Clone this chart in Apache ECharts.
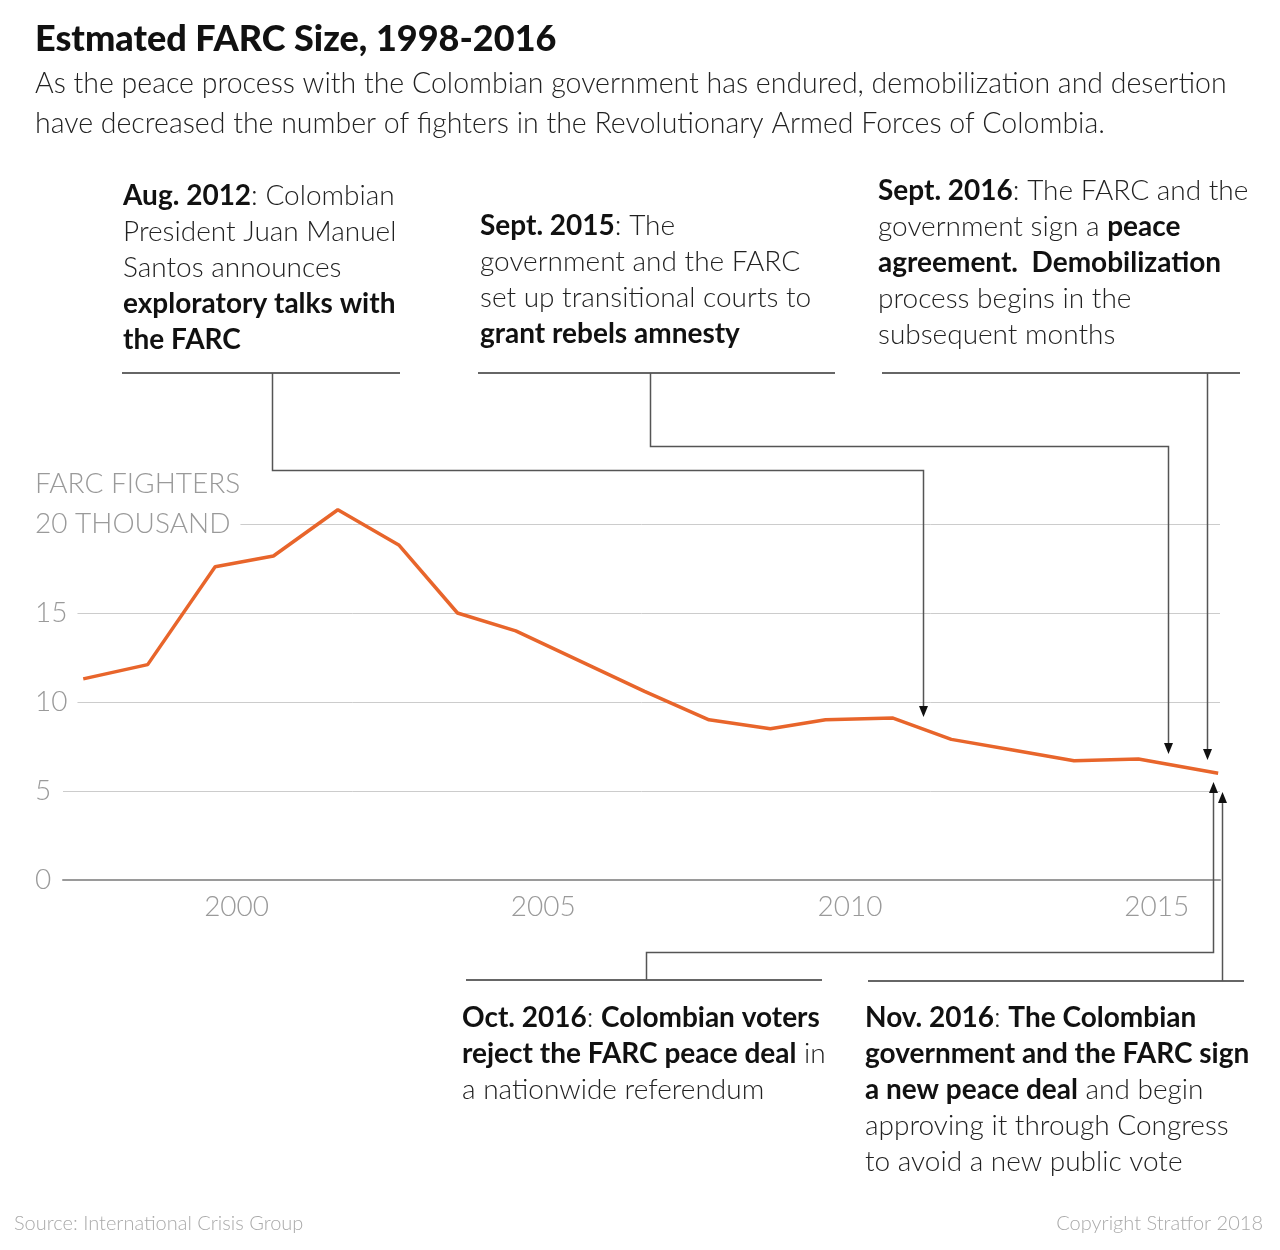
<!DOCTYPE html>
<html lang="en">
<head>
    <meta charset="UTF-8">
    <title>Estmated FARC Size, 1998-2016</title>
</head>
<body style="margin: 0; background: #fff">
    <div id="container" style="width:1280px;height:1250px"></div>
    <script src="https://cdn.jsdelivr.net/npm/echarts@6.0.0/dist/echarts.min.js"></script>
    <script type="text/javascript">
        // data: decimal date of each estimate, fighters in thousands
        var years = [1998.0, 1999.05, 2000.15, 2001.1, 2002.15, 2003.15, 2004.1, 2005.05, 2006.1, 2007.15, 2008.2, 2009.2, 2010.1, 2011.2, 2012.15, 2013.15, 2014.15, 2015.2, 2016.5];
        var fighters = [11.3, 12.1, 17.6, 18.2, 20.8, 18.8, 15.0, 14.0, 12.3, 10.6, 9.0, 8.5, 9.0, 9.1, 7.9, 7.3, 6.7, 6.8, 6.0];
        var xTickValues = [2000.5, 2005.5, 2010.5, 2015.5];

        // annotations: where each arrow points (decimal year, thousands)
        var annoEventX = [2011.69, 2015.69, 2016.32, 2016.42, 2016.57];
        var annoTipY = [9.16, 7.08, 6.74, 5.5, 4.94];
        var annoTexts = [
            '{b|Aug. 2012}: Colombian\nPresident Juan Manuel\nSantos announces\n{b|exploratory talks with}\n{b|the FARC}',
            '{b|Sept. 2015}: The\ngovernment and the FARC\nset up transitional courts to\n{b|grant rebels amnesty}',
            '{b|Sept. 2016}: The FARC and the\ngovernment sign a {b|peace}\n{b|agreement.  Demobilization}\nprocess begins in the\nsubsequent months',
            '{b|Oct. 2016}: {b|Colombian voters}\n{b|reject the FARC peace deal} in\na nationwide referendum',
            '{b|Nov. 2016}: {b|The Colombian}\n{b|government and the FARC sign}\n{b|a new peace deal} and begin\napproving it through Congress\nto avoid a new public vote'
        ];

        var FONT = 'Lato, "Noto Sans", sans-serif';
        var dom = document.getElementById('container');
        var myChart = echarts.init(dom);

        var points = years.map(function (y, i) { return [y, fighters[i]]; });

        var option = {
            backgroundColor: '#fff',
            animation: false,
            grid: { left: 63, right: 60, top: 524, bottom: 370 },
            xAxis: {
                type: 'value',
                min: 1997.67,
                max: 2016.53,
                axisLine: { show: true, onZero: false, lineStyle: { color: '#9a9a9a', width: 2 } },
                axisTick: { show: false },
                splitLine: { show: false },
                axisLabel: {
                    customValues: xTickValues,
                    formatter: function (v) { return Math.floor(v); },
                    color: '#9a9a9a',
                    fontFamily: FONT,
                    fontWeight: 300,
                    fontSize: 28,
                    margin: 13
                }
            },
            yAxis: {
                type: 'value',
                min: 0,
                max: 20,
                interval: 5,
                axisLine: { show: false },
                axisTick: { show: false },
                splitLine: { lineStyle: { color: '#cccccc', width: 1 } },
                axisLabel: {
                    align: 'left',
                    margin: 28,
                    color: '#9a9a9a',
                    fontFamily: FONT,
                    fontWeight: 300,
                    fontSize: 28,
                    backgroundColor: '#fff',
                    padding: [0, 10, 0, 0],
                    formatter: function (v) { return v === 20 ? '20 THOUSAND' : v; }
                }
            },
            series: [{
                type: 'line',
                data: points,
                symbol: 'none',
                clip: false,
                lineStyle: { color: '#e8652b', width: 3.5 }
            }]
        };
        myChart.setOption(option);

        function px(x, y) { return myChart.convertToPixel({ gridIndex: 0 }, [x, y]); }

        var gfx = [];
        // header and footer
        gfx.push({ type: 'text', style: { text: 'Estmated FARC Size, 1998-2016', x: 35, y: 39, verticalAlign: 'middle', fontFamily: FONT, fontWeight: 900, fontSize: 36, fill: '#111' } });
        gfx.push({ type: 'text', style: { text: 'As the peace process with the Colombian government has endured, demobilization and desertion\nhave decreased the number of fighters in the Revolutionary Armed Forces of Colombia.', x: 35, y: 64, lineHeight: 40, fontFamily: FONT, fontWeight: 300, fontSize: 28.5, fill: '#222' } });
        gfx.push({ type: 'text', style: { text: 'FARC FIGHTERS', x: 35, y: 484, verticalAlign: 'middle', fontFamily: FONT, fontWeight: 300, fontSize: 28, fill: '#9a9a9a' } });
        gfx.push({ type: 'text', style: { text: 'Source: International Crisis Group', x: 14, y: 1224, verticalAlign: 'middle', fontFamily: FONT, fontWeight: 300, fontSize: 20, fill: '#aaa' } });
        gfx.push({ type: 'text', style: { text: 'Copyright Stratfor 2018', x: 1263, y: 1224, align: 'right', verticalAlign: 'middle', fontFamily: FONT, fontWeight: 300, fontSize: 20, fill: '#aaa' } });

        // annotation layout (pixels): text top-left, rule, stem, elbow
        var annoLayout = [
            { tx: 123, ty: 178, r0: 122, r1: 400, ry: 373, stem: 272, elbow: 470, down: true },
            { tx: 480, ty: 208, r0: 478, r1: 835, ry: 373, stem: 650, elbow: 446, down: true },
            { tx: 878, ty: 173, r0: 882, r1: 1240, ry: 373, stem: null, elbow: null, down: true },
            { tx: 462, ty: 1000, r0: 466, r1: 822, ry: 980, stem: 646, elbow: 952, down: false },
            { tx: 865, ty: 1000, r0: 868, r1: 1244, ry: 981, stem: null, elbow: null, down: false }
        ];
        annoLayout.forEach(function (a, i) {
            gfx.push({
                type: 'text', z: 10,
                style: {
                    text: annoTexts[i], x: a.tx, y: a.ty, lineHeight: 36,
                    fontFamily: FONT, fontWeight: 300, fontSize: 28, fill: '#222',
                    rich: { b: { fontFamily: FONT, fontWeight: 'bold', fontSize: 28, lineHeight: 36, fill: '#111' } }
                }
            });
            gfx.push({ type: 'line', z: 10, shape: { x1: a.r0, y1: a.ry, x2: a.r1, y2: a.ry }, style: { stroke: '#666', lineWidth: 2 } });
            var tip = px(annoEventX[i], annoTipY[i]);
            var ax = Math.round(tip[0]) + 0.5, ay = tip[1];
            var base = a.down ? ay - 11 : ay + 11;
            var pts;
            if (a.stem !== null) {
                pts = [[a.stem + 0.5, a.ry], [a.stem + 0.5, a.elbow + 0.5], [ax, a.elbow + 0.5], [ax, base]];
            } else {
                pts = [[ax, a.ry], [ax, base]];
            }
            gfx.push({ type: 'polyline', z: 10, shape: { points: pts }, style: { stroke: '#555', lineWidth: 1.5, fill: null } });
            gfx.push({ type: 'polygon', z: 11, shape: { points: [[ax - 4.5, base], [ax + 4.5, base], [ax, ay]] }, style: { fill: '#111' } });
        });

        myChart.setOption({ graphic: gfx });
    </script>
</body>
</html>
